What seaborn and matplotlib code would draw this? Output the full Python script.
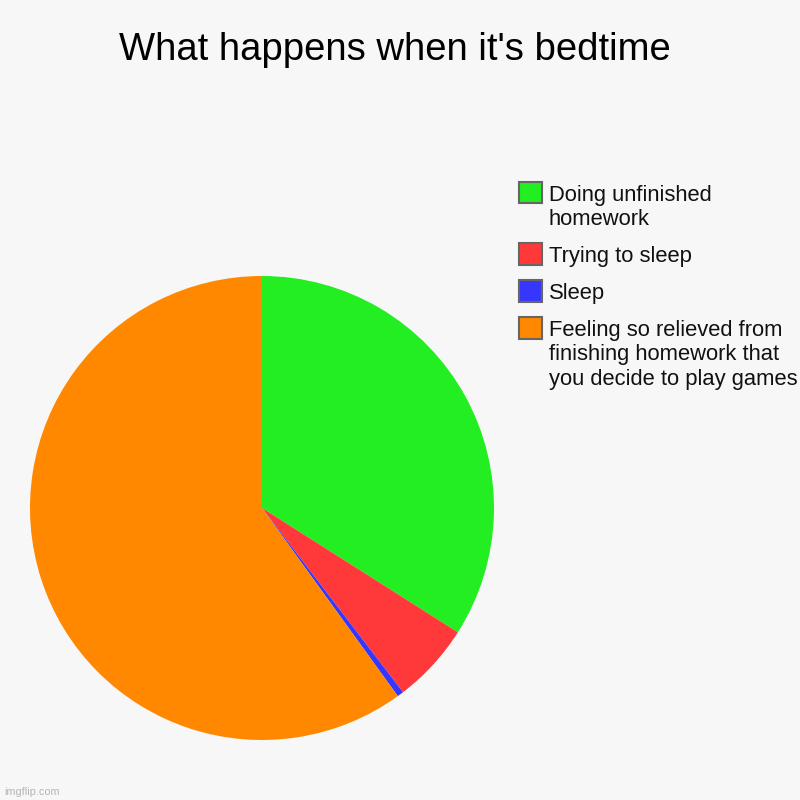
import matplotlib
matplotlib.use("Agg")
import matplotlib.pyplot as plt
import seaborn as sns
from matplotlib.patches import Rectangle

categories = [
    "Doing unfinished\nhomework",
    "Trying to sleep",
    "Sleep",
    "Feeling so relieved from\nfinishing homework that\nyou decide to play games",
]
values = [34.0, 5.6, 0.45, 59.95]
colors = ["#22ee22", "#ff3939", "#3636ff", "#ff8800"]
title = "What happens when it's bedtime"

sns.set_theme(style="white")
plt.rcParams["font.family"] = ["Liberation Sans", "DejaVu Sans"]

W = H = 800.0
bg = "#f7f7f7"
fig = plt.figure(figsize=(8, 8), dpi=100, facecolor=bg)

# Pie: centre (262, 508), radius 232 px
ax = fig.add_axes([30 / W, 60 / H, 464 / W, 464 / H])
ax.set_facecolor(bg)
wedges, _ = ax.pie(values, colors=colors, startangle=90, counterclock=False,
                   radius=1.0, wedgeprops=dict(linewidth=0))
ax.set_xlim(-1, 1)
ax.set_ylim(-1, 1)
ax.set_aspect("equal")
ax.axis("off")

def fy(px):
    return 1 - px / H

fig.text(395 / W, fy(60), title, ha="center", va="baseline",
         fontsize=27.5, color="black")

# Legend built from the category list
fs = 15.8
base = 200.7
line_gap = 24.3
entry_gap = 37.0
for cat, col in zip(categories, colors):
    lines = cat.split("\n")
    fig.patches.append(Rectangle((518.5 / W, fy(base + 2.6)), 23.5 / W, 21.6 / H,
                                 transform=fig.transFigure, facecolor=col,
                                 edgecolor="#666666", linewidth=1.5))
    y = base
    for j, ln in enumerate(lines):
        fig.text(549 / W, fy(y), ln, ha="left", va="baseline", fontsize=fs,
                 color="#111111")
        if j < len(lines) - 1:
            y += line_gap
    base = y + entry_gap

fig.text(4 / W, fy(795), "imgflip.com", fontsize=7.8, color="#b5b5b5",
         ha="left", va="baseline")

fig.savefig("out.png", dpi=100, facecolor=bg)
